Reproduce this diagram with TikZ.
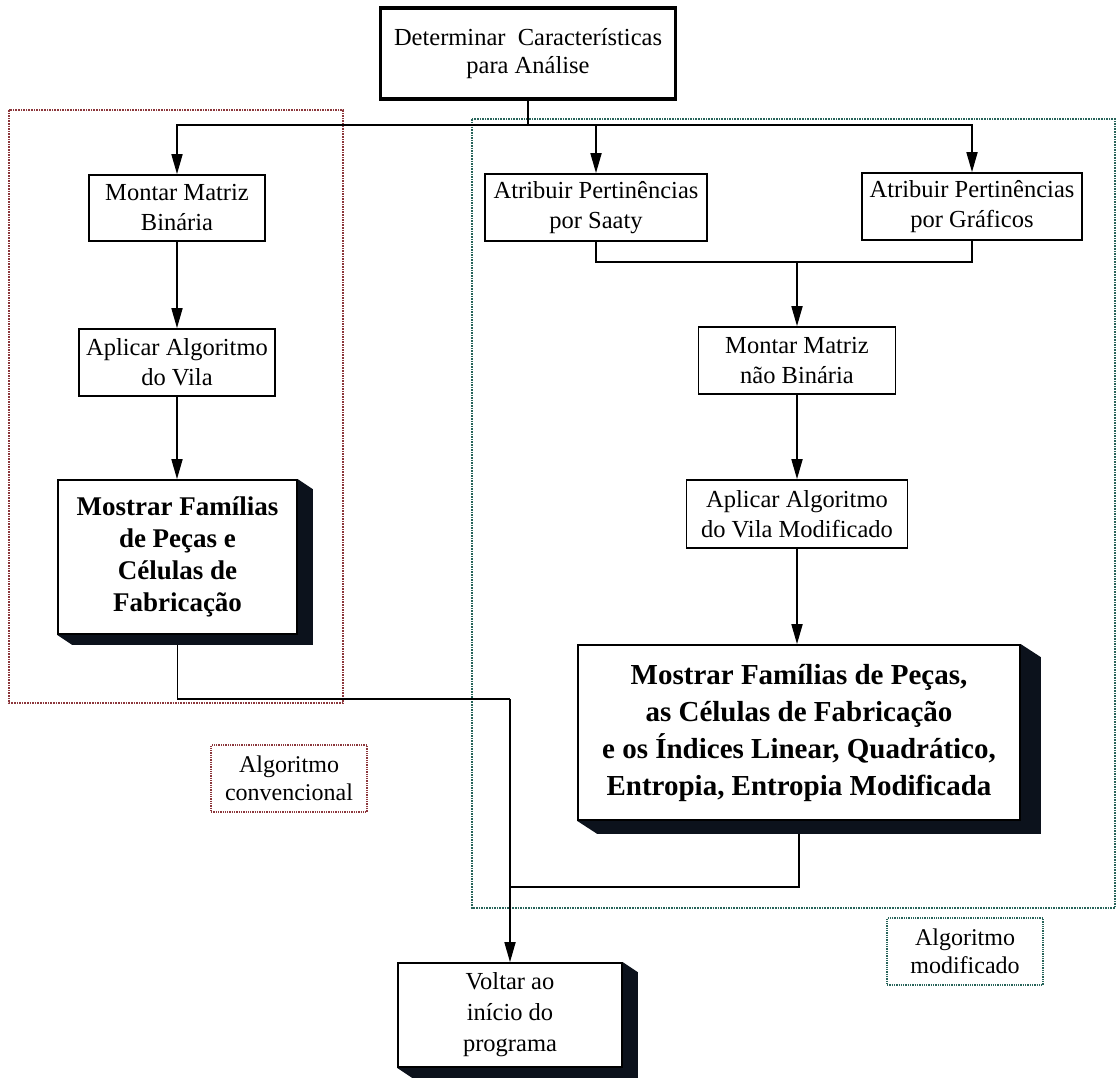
\documentclass[tikz,border=0pt]{standalone}
\usepackage{fontspec}
\setmainfont{Liberation Serif}
\usetikzlibrary{arrows.meta,calc,backgrounds}
\definecolor{redframe}{RGB}{140,55,60}
\definecolor{greenframe}{RGB}{40,100,90}
\definecolor{shadowc}{RGB}{12,18,28}
\newcommand\boxshadow[3]{%
  \fill[shadowc] (#1.north east) -- ++(#2,#3) -- ($(#1.south east)+(#2,#3)$) -- ($(#1.south west)+(#2,#3)$) -- (#1.south west) -- cycle;}
\tikzset{
  box/.style={draw, line width=1.7pt, fill=white, align=center, inner sep=0pt,
    font=\fontsize{24.5}{30}\selectfont},
  boldbox/.style={box, font=\bfseries\fontsize{27}{32}\selectfont},
  hugebox/.style={box, font=\bfseries\fontsize{29}{37}\selectfont},
  arr/.style={line width=1.7pt, -{Triangle[length=20pt,width=11pt]}},
  conn/.style={line width=1.7pt},
  frame/.style={line width=1.6pt, densely dotted},
  lab/.style={draw, line width=1.3pt, densely dotted, align=center, inner sep=0pt,
    font=\fontsize{24}{28}\selectfont}
}
\begin{document}
\begin{tikzpicture}[x=1pt,y=-1pt]
\useasboundingbox (0,0) rectangle (1118,1077);

% frames
\draw[frame, redframe] (9,110) rectangle (343,703);
\draw[frame, greenframe] (472,119) rectangle (1115,908);

% nodes
\node[box, line width=3.2pt, minimum width=295, minimum height=91,
  font=\fontsize{24.5}{28}\selectfont] (top) at (528,53.5)
  {Determinar~ Características\\para Análise};
\node[box, minimum width=176, minimum height=66] (bin) at (177,208) {Montar Matriz\\Binária};
\node[box, minimum width=196, minimum height=67] (vila) at (177,362.5) {Aplicar Algoritmo\\do Vila};
\node[boldbox, minimum width=239, minimum height=154] (fam1) at (177.5,557)
  {Mostrar Famílias\\de Peças e\\Células de\\Fabricação};
\node[box, minimum width=222, minimum height=67] (saaty) at (596,207.5) {Atribuir Pertinências\\por Saaty};
\node[box, minimum width=220, minimum height=67] (graf) at (972,206.5) {Atribuir Pertinências\\por Gráficos};
\node[box, minimum width=197, minimum height=67] (naobin) at (797,360.5) {Montar Matriz\\não Binária};
\node[box, minimum width=221, minimum height=68] (vilamod) at (797,514) {Aplicar Algoritmo\\do Vila Modificado};
\node[hugebox, minimum width=442, minimum height=175] (fam2) at (799,732.5)
  {\raisebox{-6pt}{\begin{tabular}{@{}c@{}}Mostrar Famílias de Peças,\\as Células de Fabricação\\e os Índices Linear, Quadrático,\\Entropia, Entropia Modificada\end{tabular}}};
\node[box, minimum width=224, minimum height=104, font=\fontsize{24.5}{31}\selectfont] (voltar) at (510,1015)
  {Voltar ao\\início do\\programa};

% labels
\node[lab, draw=redframe, minimum width=156, minimum height=67] (lconv) at (289,778.5)
  {Algoritmo\\convencional};
\node[lab, draw=greenframe, minimum width=156, minimum height=67] (lmod) at (965,951.5)
  {Algoritmo\\modificado};

% junction coordinates
\coordinate (hub) at (528,125);
\coordinate (j2) at (797,262);
\coordinate (j3) at (510,699);
\coordinate (j4) at (510,887);

% connectors
\draw[conn] (top.south) -- (hub);
\draw[arr] (hub) -| (bin.north);
\draw[arr] (hub) -| (graf.north);
\draw[arr] (saaty.north |- hub) -- (saaty.north);
\draw[arr] (bin.south) -- (vila.north);
\draw[arr] (vila.south) -- (vila.south |- fam1.north);
\draw[conn] (saaty.south) |- (j2) -| (graf.south);
\draw[arr] (j2) -- (naobin.north);
\draw[arr] (naobin.south) -- (vilamod.north);
\draw[arr] (vilamod.south) -- (vilamod.south |- fam2.north);
\draw[conn] ($(fam1.south)+(0,10)$) |- (j3);
\draw[arr] (j3) -- (voltar.north);
\draw[conn] ($(fam2.south)+(0,13)$) |- (j4);

\begin{scope}[on background layer]
  \fill[white] (0,0) rectangle (1118,1077);
  \boxshadow{fam1}{15}{10}
  \boxshadow{fam2}{20}{13}
  \boxshadow{voltar}{15}{10}
\end{scope}
\end{tikzpicture}
\end{document}
